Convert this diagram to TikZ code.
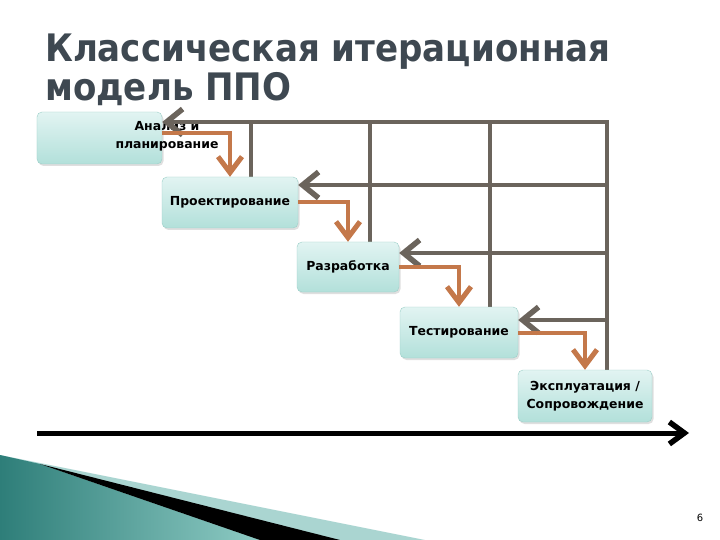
\documentclass[tikz,border=0pt]{standalone}
\usepackage{fontspec}
\setmainfont{DejaVu Sans}
\newfontfamily\headfont[FakeStretch=0.9]{DejaVu Sans}
\usetikzlibrary{arrows.meta,shadows}
\definecolor{headgray}{HTML}{3E4851}
\definecolor{gridgray}{HTML}{6B645C}
\definecolor{flowbrown}{HTML}{C4784A}
\definecolor{boxtop}{HTML}{E2F4F2}
\definecolor{boxbot}{HTML}{B2E0DA}
\definecolor{boxline}{HTML}{9CCFC8}
\definecolor{tealdark}{HTML}{2E7E79}
\definecolor{teallight}{HTML}{8ECBC4}
\definecolor{tealpale}{HTML}{AAD5D1}

\begin{document}
\begin{tikzpicture}[x=1bp,y=-1bp]
    \tikzstyle{stage}=[rectangle,rounded corners=5bp,draw=boxline,top color=boxtop,bottom color=boxbot,drop shadow={shadow xshift=1.5bp,shadow yshift=-2bp,opacity=0.25},inner sep=0pt,font=\bfseries\fontsize{12.5}{18}\selectfont,align=center]
    \tikzstyle{back}=[line width=4.5bp,draw=gridgray]
    \tikzstyle{backarrow}=[back,-{Straight Barb[length=16bp,width=26bp,line width=5.5bp]}]
    \tikzstyle{flow}=[line width=4bp,draw=flowbrown,-{Straight Barb[length=16bp,width=24bp,line width=5bp]}]
    \tikzstyle{heading}=[anchor=base west,inner sep=0pt,text=headgray,font=\headfont\bfseries\fontsize{38}{46}\selectfont]
    \useasboundingbox (0,0) rectangle (720,540);
    \fill[white] (0,0) rectangle (720,540);

    % corner decoration
    \fill[tealpale] (0,455) -- (425,540) -- (0,540) -- cycle;
    \shade[left color=tealdark,right color=teallight] (0,455) -- (40,464) -- (260,540) -- (0,540) -- cycle;
    \fill[black] (40,464) -- (340,540) -- (260,540) -- cycle;

    \node (title1)[heading] at (45,62) {Классическая итерационная};
    \node (title2)[heading] at (45,101) {модель ППО};

    \coordinate (c1) at (251,122);
    \coordinate (c2) at (370,122);
    \coordinate (c3) at (490,122);
    \coordinate (r1) at (607,122);
    \coordinate (r2) at (607,185);
    \coordinate (r3) at (607,253);
    \coordinate (r4) at (607,320);
    \coordinate (t0) at (37,433);
    \coordinate (t1) at (689,433);

    \draw[back,line cap=rect] (c1) -- (c1 |- 0,177);
    \draw[back,line cap=rect] (c2) -- (c2 |- 0,242);
    \draw[back,line cap=rect] (c3) -- (c3 |- 0,307);
    \draw[back,line cap=rect] (r1) -- (r1 |- 0,370);

    \node (ana)[stage,minimum width=125bp,minimum height=52bp] at (99.5,138) {};
    \node (pro)[stage,minimum width=136bp,minimum height=51bp] at (230,202.5) {Проектирование};
    \node (raz)[stage,minimum width=102bp,minimum height=50bp] at (348,267) {Разработка};
    \node (tes)[stage,minimum width=118bp,minimum height=51bp] at (459,332.5) {Тестирование};
    \node (exp)[stage,minimum width=134bp,minimum height=52bp] at (585,396) {Эксплуатация /\\Сопровождение};
    \node (anatext)[align=center,inner sep=0pt,font=\bfseries\fontsize{12.5}{18}\selectfont] at (167,136) {Анализ и\\планирование};

    \draw[backarrow] (r1) -- (r1 -| ana.east);
    \draw[backarrow] (r2) -- (r2 -| pro.east);
    \draw[backarrow] (r3) -- (r3 -| raz.east);
    \draw[backarrow,line width=3.5bp] (r4) -- (r4 -| tes.east);

    \draw[flow] ([yshift=5bp]ana.east) -| (pro.north);
    \draw[flow] (pro.east) -| (raz.north);
    \draw[flow] (raz.east) -| (tes.north);
    \draw[flow] (tes.east) -| (exp.north);

    \draw[line width=5bp,-{Straight Barb[length=15bp,width=22bp,line width=5.5bp]}] (t0) -- (t1);

    \node (page)[font=\fontsize{10}{12}\selectfont] at (700,518) {6};
\end{tikzpicture}
\end{document}
